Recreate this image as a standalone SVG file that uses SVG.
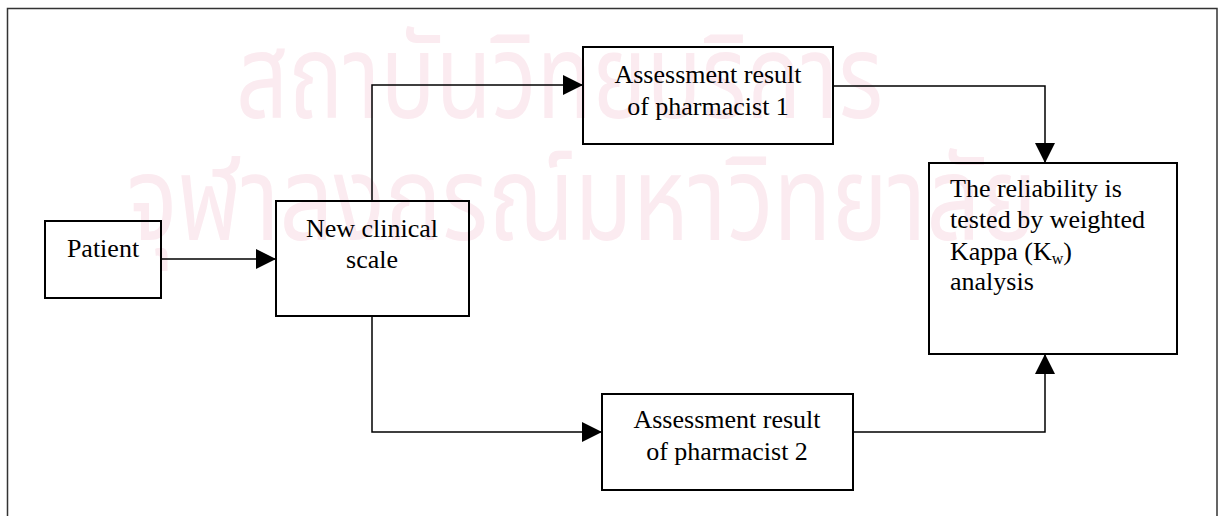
<svg xmlns="http://www.w3.org/2000/svg" width="1219" height="516" viewBox="0 0 1219 516">
<style>
.frame{fill:none;stroke:#333;stroke-width:1.5}
.box{fill:none;stroke:#000;stroke-width:2}
.conn{fill:none;stroke:#000;stroke-width:1.5}
.t{font-family:"Liberation Serif","Times New Roman",serif;font-size:26px;fill:#000}
.c{text-anchor:middle}
.wm{font-family:"Noto Sans Thai","Loma","Garuda","Noto Sans","DejaVu Sans",sans-serif;fill:#fbebf0}
</style>
<defs>
<marker id="ah" viewBox="0 0 20 20" refX="20" refY="10" markerWidth="20" markerHeight="20" markerUnits="userSpaceOnUse" orient="auto">
<path d="M0,0 L20,10 L0,20 z" fill="#000"/>
</marker>
</defs>
<rect width="1219" height="516" fill="#fff"/>
<g id="watermark">
<text class="wm" x="236" y="118" font-size="118" textLength="647" lengthAdjust="spacingAndGlyphs">สถาบันวิทยบริการ</text>
<text class="wm" x="127" y="240" font-size="118" textLength="910" lengthAdjust="spacingAndGlyphs">จุฬาลงกรณ์มหาวิทยาลัย</text>
</g>
<path class="frame" d="M7.5,520 L7.5,8.5 L1217,8.5 L1217,520"/>
<g id="connectors">
<path class="conn" d="M161,259 L276,259" marker-end="url(#ah)"/>
<path class="conn" d="M372,201 L372,85 L583,85" marker-end="url(#ah)"/>
<path class="conn" d="M833,86 L1045,86 L1045,163" marker-end="url(#ah)"/>
<path class="conn" d="M372,316 L372,432 L602,432" marker-end="url(#ah)"/>
<path class="conn" d="M853,432 L1045,432 L1045,354" marker-end="url(#ah)"/>
</g>
<g id="patient">
<rect class="box" x="45" y="221" width="116" height="77"/>
<text class="t c" x="103" y="257">Patient</text>
</g>
<g id="new-clinical-scale">
<rect class="box" x="276" y="201" width="193" height="115"/>
<text class="t c" x="372" y="237">New clinical</text>
<text class="t c" x="372" y="268">scale</text>
</g>
<g id="pharmacist-1">
<rect class="box" x="583" y="47" width="250" height="97"/>
<text class="t c" x="708" y="83">Assessment result</text>
<text class="t c" x="708" y="115">of pharmacist 1</text>
</g>
<g id="pharmacist-2">
<rect class="box" x="602" y="394" width="251" height="96"/>
<text class="t c" x="727" y="428">Assessment result</text>
<text class="t c" x="727" y="460">of pharmacist 2</text>
</g>
<g id="reliability">
<rect class="box" x="929" y="163" width="248" height="191"/>
<text class="t" x="950" y="197">The reliability is</text>
<text class="t" x="950" y="228">tested by weighted</text>
<text class="t" x="950" y="260">Kappa (K<tspan font-size="16" dy="4">w</tspan><tspan dy="-4">)</tspan></text>
<text class="t" x="950" y="290">analysis</text>
</g>
</svg>
